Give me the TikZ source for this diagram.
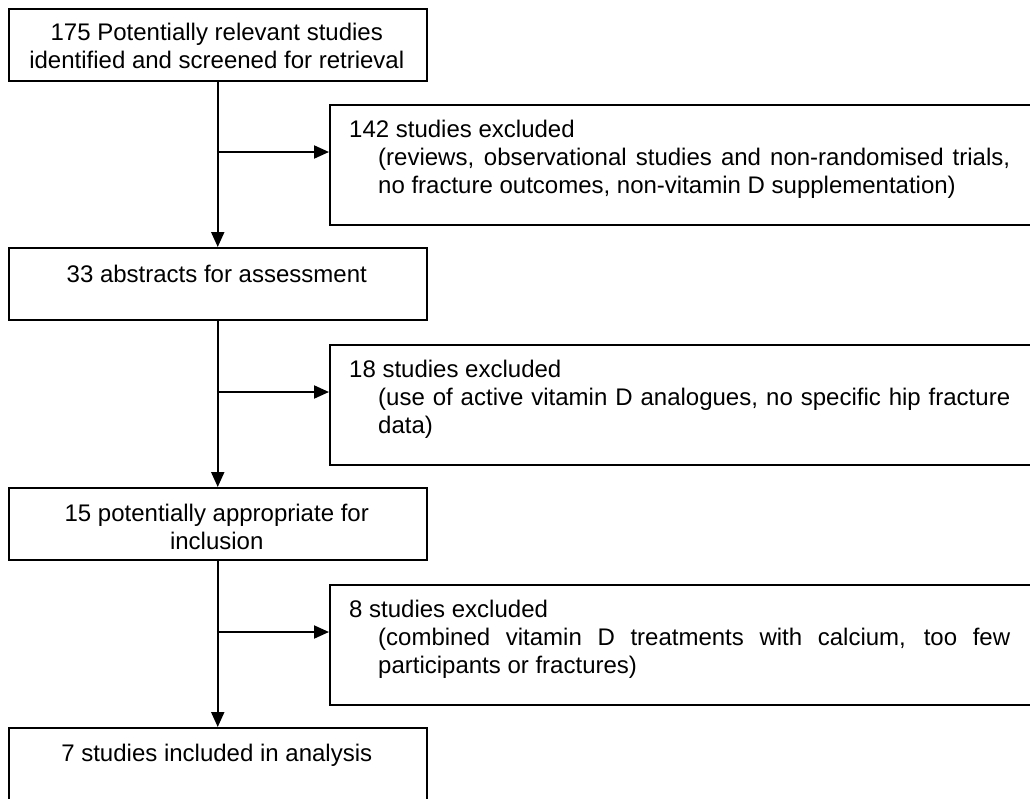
\documentclass[tikz,border=0pt]{standalone}
\usepackage{fontspec}
\setmainfont{Liberation Sans}
\usetikzlibrary{arrows.meta}
\newcommand\ctext[2]{\parbox[t]{#1}{\centering\fontsize{24}{28}\selectfont #2}}
\newcommand\xtext[2]{\parbox[t]{661pt}{\fontsize{24}{28}\selectfont\tolerance=10000 #1\par\leftskip=29pt\relax #2\par}}
\tikzset{
  stagebox/.style={draw, line width=2pt, inner sep=0pt, minimum width=417.5pt, minimum height=72pt, anchor=north west},
  exbox/.style={draw, line width=2pt, inner sep=0pt, minimum width=711pt, minimum height=120pt, anchor=north west},
  txt/.style={inner sep=0pt},
  arr/.style={line width=2pt, -{Triangle[length=15pt,width=13pt]}}
}
\begin{document}
\begin{tikzpicture}[x=1pt,y=-1pt]
\useasboundingbox (0,0) rectangle (1030,798);
% main boxes
\node[stagebox] (b1) at (8,8) {};
\node[stagebox] (b3) at (8,247) {};
\node[stagebox] (b4) at (8,487) {};
\node[stagebox] (b5) at (8,727) {};
% exclusion boxes
\node[exbox] (e1) at (329,104) {};
\node[exbox] (e2) at (329,344) {};
\node[exbox] (e3) at (329,584) {};
% texts
\node[txt, anchor=base] (t1) at (216.75,40) {\ctext{417pt}{175 Potentially relevant studies\\identified and screened for retrieval}};
\node[txt, anchor=base] (t3) at (216.75,282) {\ctext{417pt}{33 abstracts for assessment}};
\node[txt, anchor=base] (t4) at (216.75,521) {\ctext{417pt}{15 potentially appropriate for\\inclusion}};
\node[txt, anchor=base] (t5) at (216.75,761) {\ctext{417pt}{7 studies included in analysis}};
\node[txt, anchor=base west] (x1) at (349,137) {\xtext{142 studies excluded}{(reviews, observational studies and non-randomised trials,\linebreak no fracture outcomes, non-vitamin D supplementation)}};
\node[txt, anchor=base west] (x2) at (349,377) {\xtext{18 studies excluded}{(use of active vitamin D analogues, no specific hip fracture\linebreak data)}};
\node[txt, anchor=base west] (x3) at (349,617) {\xtext{8 studies excluded}{(combined vitamin D treatments with calcium, too few\linebreak participants or fractures)}};
% junctions
\coordinate (j1) at (216.75,152);
\coordinate (j2) at (216.75,392);
\coordinate (j3) at (216.75,632);
% connectors
\draw[arr] (b1.south) -- (b3.north);
\draw[arr] (b3.south) -- (b4.north);
\draw[arr] (b4.south) -- (b5.north);
\draw[arr] (j1) -- (j1 -| e1.west);
\draw[arr] (j2) -- (j2 -| e2.west);
\draw[arr] (j3) -- (j3 -| e3.west);
\end{tikzpicture}
\end{document}
